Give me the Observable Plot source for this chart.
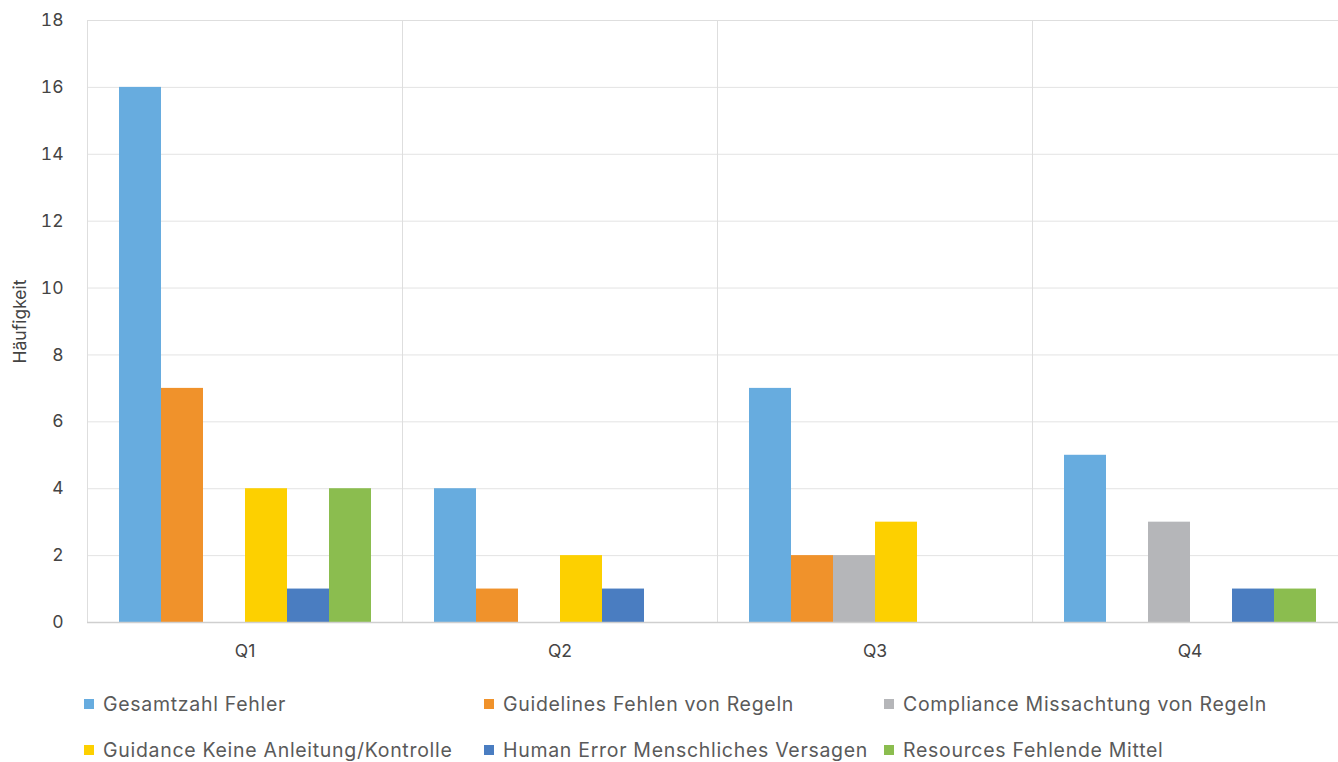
<!DOCTYPE html>
<html><head><meta charset="utf-8">
<script src="https://cdn.jsdelivr.net/npm/d3@7"></script>
<script src="https://cdn.jsdelivr.net/npm/@observablehq/plot@0.6"></script>
<style>
html,body{margin:0;padding:0;background:#fff;}
body{width:1338px;height:762px;overflow:hidden;position:relative;font-family:Inter,"Noto Sans",sans-serif;}
#chart{position:absolute;left:0;top:0;width:1338px;overflow:hidden;}
#chart svg{max-width:none !important;}
#chart svg text{font-size:17.5px;}
#legend{position:absolute;left:84px;top:692px;width:1250px;display:grid;grid-template-columns:400px 400px 400px;row-gap:22px;font-size:19.5px;letter-spacing:0.7px;color:#5a5a5a;}
.item{display:flex;align-items:center;height:24px;white-space:nowrap;}
.sw{width:10px;height:10px;margin-right:9px;flex:none;}
</style>
</head><body>
<div id="chart"></div>
<div id="legend"></div>
<script>
const quarters = ["Q1","Q2","Q3","Q4"];
const seriesNames = ["Gesamtzahl Fehler","Guidelines Fehlen von Regeln","Compliance Missachtung von Regeln","Guidance Keine Anleitung/Kontrolle","Human Error Menschliches Versagen","Resources Fehlende Mittel"];
const seriesColors = ["#67acdf","#f0922b","#b5b6b9","#fdd000","#4a7dc1","#8bbd4f"];
const gesamtzahl = [16,4,7,5];
const guidelines = [7,1,2,0];
const compliance = [0,0,2,3];
const guidance = [4,2,3,0];
const humanError = [1,1,0,1];
const resources = [4,0,0,1];
const yTicks = [0,2,4,6,8,10,12,14,16,18];

const seriesValues = [gesamtzahl, guidelines, compliance, guidance, humanError, resources];
const data = [];
quarters.forEach((q,i) => seriesNames.forEach((s,j) => data.push({q, series:s, value:seriesValues[j][i]})));

const chart = Plot.plot({
  width: 1347,
  height: 672,
  marginLeft: 86,
  marginRight: 0,
  marginTop: 20,
  marginBottom: 50,
  facet: {marginRight: 0},
  style: {fontFamily: "Inter, 'Noto Sans', sans-serif", fontSize: "17.5px", color: "#444", background: "#fff"},
  fx: {domain: quarters, padding: 0, label: null, tickSize: 0, tickPadding: 22},
  x: {domain: seriesNames, paddingInner: 0, paddingOuter: 0.7, axis: null},
  y: {domain: [0,18], ticks: yTicks, tickSize: 0, tickPadding: 24, label: "Häufigkeit", labelAnchor: "center", labelOffset: 74, labelArrow: "none"},
  color: {domain: seriesNames, range: seriesColors},
  marks: [
    Plot.gridY(yTicks, {stroke: "#e3e3e3", strokeOpacity: 1}),
    Plot.frame({stroke: "#dedede", strokeOpacity: 1}),
    Plot.barY(data, {fx: "q", x: "series", y: "value", fill: "series"}),
    Plot.ruleY([0], {stroke: "#cfcfcf", strokeWidth: 1.5})
  ]
});
document.getElementById("chart").appendChild(chart);

const legend = document.getElementById("legend");
seriesNames.forEach((s,i) => {
  const it = document.createElement("div"); it.className = "item";
  const sw = document.createElement("span"); sw.className = "sw"; sw.style.background = seriesColors[i];
  const t = document.createElement("span"); t.textContent = s;
  it.appendChild(sw); it.appendChild(t); legend.appendChild(it);
});
</script>
</body></html>
